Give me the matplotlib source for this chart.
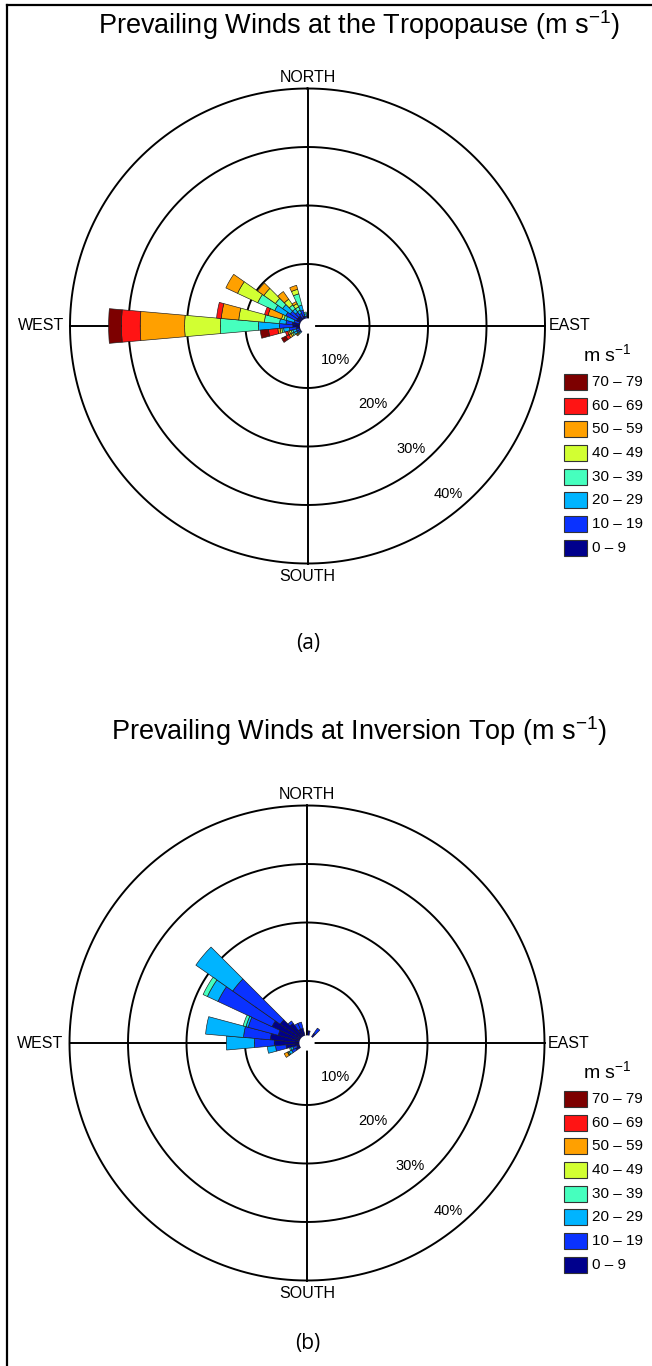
import numpy as np
import matplotlib.pyplot as plt
from matplotlib.patches import Rectangle
from matplotlib.lines import Line2D

plt.rcParams['font.family'] = ['Liberation Sans', 'DejaVu Sans']
plt.rcParams['mathtext.fontset'] = 'custom'
plt.rcParams['mathtext.rm'] = 'Liberation Sans'
plt.rcParams['mathtext.it'] = 'Liberation Sans:italic'

# speed classes (m/s) and their colours, slowest first
speed_labels = ["0 \u2013 9", "10 \u2013 19", "20 \u2013 29", "30 \u2013 39",
                "40 \u2013 49", "50 \u2013 59", "60 \u2013 69", "70 \u2013 79"]
speed_colors = ["#00008c", "#0a32ff", "#00b4ff", "#46ffbe",
                "#d2ff32", "#ffa000", "#ff1414", "#7d0000"]

# tropopause: direction (deg from north) and % frequency per speed class
trop_dirs = [230, 240, 250, 260, 270, 280, 290, 300, 310, 320, 330, 340, 350]
trop_pct = [
    [0.5, 0.4, 0.3, 0.2, 0.2, 0.2, 0.0, 0.0],
    [0.8, 0.6, 0.5, 0.3, 0.3, 0.4, 0.6, 0.8],
    [0.8, 0.6, 0.6, 0.3, 0.3, 0.3, 0.4, 0.0],
    [1.3, 1.2, 1.0, 0.3, 0.3, 0.4, 1.6, 1.4],
    [1.9, 2.3, 3.6, 6.5, 6.1, 7.6, 3.2, 2.2],
    [2.0, 1.1, 1.1, 2.6, 4.4, 3.0, 0.8, 0.0],
    [0.9, 0.9, 1.4, 0.4, 0.4, 2.4, 0.6, 0.0],
    [1.5, 2.0, 2.1, 3.2, 3.8, 2.2, 0.0, 0.0],
    [1.5, 1.5, 1.6, 1.5, 2.4, 1.3, 0.0, 0.0],
    [1.5, 0.8, 0.7, 0.8, 1.2, 1.6, 0.0, 0.0],
    [1.0, 0.8, 0.6, 0.6, 0.6, 0.4, 0.0, 0.0],
    [1.2, 1.0, 0.9, 2.0, 0.8, 0.7, 0.0, 0.0],
    [0.6, 0.5, 0.4, 0.3, 0.0, 0.0, 0.0, 0.0],
]

# inversion top
inv_dirs = [10, 40, 240, 250, 260, 270, 280, 290, 300, 310, 320, 330, 340]
inv_pct = [
    [1.5, 0.0, 0.0, 0.0, 0.0, 0.0, 0.0, 0.0],
    [1.4, 1.1, 0.0, 0.0, 0.0, 0.0, 0.0, 0.0],
    [1.5, 0.8, 0.5, 0.2, 0.1, 0.6, 0.0, 0.0],
    [1.2, 0.7, 0.4, 0.2, 0.0, 0.0, 0.0, 0.0],
    [3.0, 1.8, 1.4, 0.0, 0.0, 0.0, 0.0, 0.0],
    [5.0, 3.4, 4.8, 0.0, 0.0, 0.0, 0.0, 0.0],
    [5.7, 4.6, 6.5, 0.0, 0.0, 0.0, 0.0, 0.0],
    [4.5, 5.3, 0.4, 0.5, 0.0, 0.0, 0.0, 0.0],
    [6.0, 10.2, 2.0, 0.8, 0.0, 0.0, 0.0, 0.0],
    [5.0, 9.9, 7.7, 0.0, 0.0, 0.0, 0.0, 0.0],
    [3.5, 0.5, 0.0, 0.0, 0.0, 0.0, 0.0, 0.0],
    [2.0, 1.1, 0.0, 0.0, 0.0, 0.0, 0.0, 0.0],
    [2.0, 1.1, 0.0, 0.0, 0.0, 0.0, 0.0, 0.0],
]

rings = [10, 20, 30, 40]

W, H = 652, 1366
fig = plt.figure(figsize=(W / 100, H / 100), dpi=100)


def fx(px):
    return px / W


def fy(py):
    return 1 - py / H


def draw_rose(cx, cy, dirs, pct, title, title_y, tag, tag_y):
    R = 237.5
    ax = fig.add_axes([fx(cx - R), fy(cy + R), 2 * R / W, 2 * R / H],
                      projection='polar')
    ax.set_theta_zero_location('N')
    ax.set_theta_direction(-1)
    ax.set_rlim(0, 40)
    ax.set_rorigin(-0.6)
    ax.grid(False)
    ax.set_xticks([])
    ax.set_yticks([])
    for sp in ax.spines.values():
        sp.set_visible(False)
    ax.patch.set_visible(False)

    th = np.linspace(0, 2 * np.pi, 500)
    for p in rings:
        ax.plot(th, np.full_like(th, p), color='black', lw=1.4,
                clip_on=False, zorder=2)
        ax.text(np.deg2rad(140), p - 3.1, f"{p}%", ha='center', va='center',
                fontsize=10.5)
    for a in (0, 90, 180, 270):
        ax.plot([np.deg2rad(a)] * 2, [0.7, 40], color='black', lw=1.4,
                clip_on=False, zorder=2)

    theta = np.deg2rad(dirs)
    pct = np.array(pct)
    bottom = np.zeros(len(dirs))
    for k in range(len(speed_labels)):
        h = pct[:, k]
        m = h > 0
        ax.bar(theta[m], h[m], width=np.deg2rad(10), bottom=bottom[m],
               color=speed_colors[k], edgecolor='#1a1a1a', linewidth=0.45,
               zorder=3)
        bottom += h

    ax.fill(th, np.full_like(th, 0.7), facecolor='white', edgecolor='none',
            zorder=5, clip_on=False)

    ax.text(0, 41.9, "NORTH", ha='center', va='center', fontsize=11.5)
    ax.text(np.pi, 42.2, "SOUTH", ha='center', va='center', fontsize=11.5)
    ax.text(np.deg2rad(270), 41.0, "WEST", ha='right', va='center', fontsize=11.5)
    ax.text(np.deg2rad(90), 40.6, "EAST", ha='left', va='center', fontsize=11.5)

    fig.text(fx(359.5), fy(title_y), title, ha='center', va='baseline',
             fontsize=19.5)
    fig.text(fx(308), fy(tag_y), tag, ha='center', va='center',
             fontsize=15, family='Open Sans')

    # legend
    fig.text(fx(607), fy(cy + 28), "m s$^{-1}$", ha='center', va='center',
             fontsize=14)
    for i in range(len(speed_labels)):
        k = len(speed_labels) - 1 - i
        yc = cy + 56 + i * 23.65
        fig.add_artist(Rectangle((fx(564), fy(yc + 8)), 23 / W, 16 / H,
                                 transform=fig.transFigure,
                                 facecolor=speed_colors[k], edgecolor='#333333',
                                 linewidth=0.8))
        fig.text(fx(592), fy(yc), speed_labels[k], ha='left', va='center',
                 fontsize=11)


draw_rose(307.5, 326, trop_dirs, trop_pct,
          "Prevailing Winds at the Tropopause (m s$^{-1}$)", 34.5, "(a)", 643)
draw_rose(307, 1043, inv_dirs, inv_pct,
          "Prevailing Winds at Inversion Top (m s$^{-1}$)", 739.5, "(b)", 1344)

# page frame (top and left edges)
fig.add_artist(Line2D([fx(7), 1], [fy(5), fy(5)], color='black', lw=1.6,
                      transform=fig.transFigure))
fig.add_artist(Line2D([fx(7), fx(7)], [0, fy(5)], color='black', lw=1.6,
                      transform=fig.transFigure))

fig.savefig("out.png", dpi=100)
